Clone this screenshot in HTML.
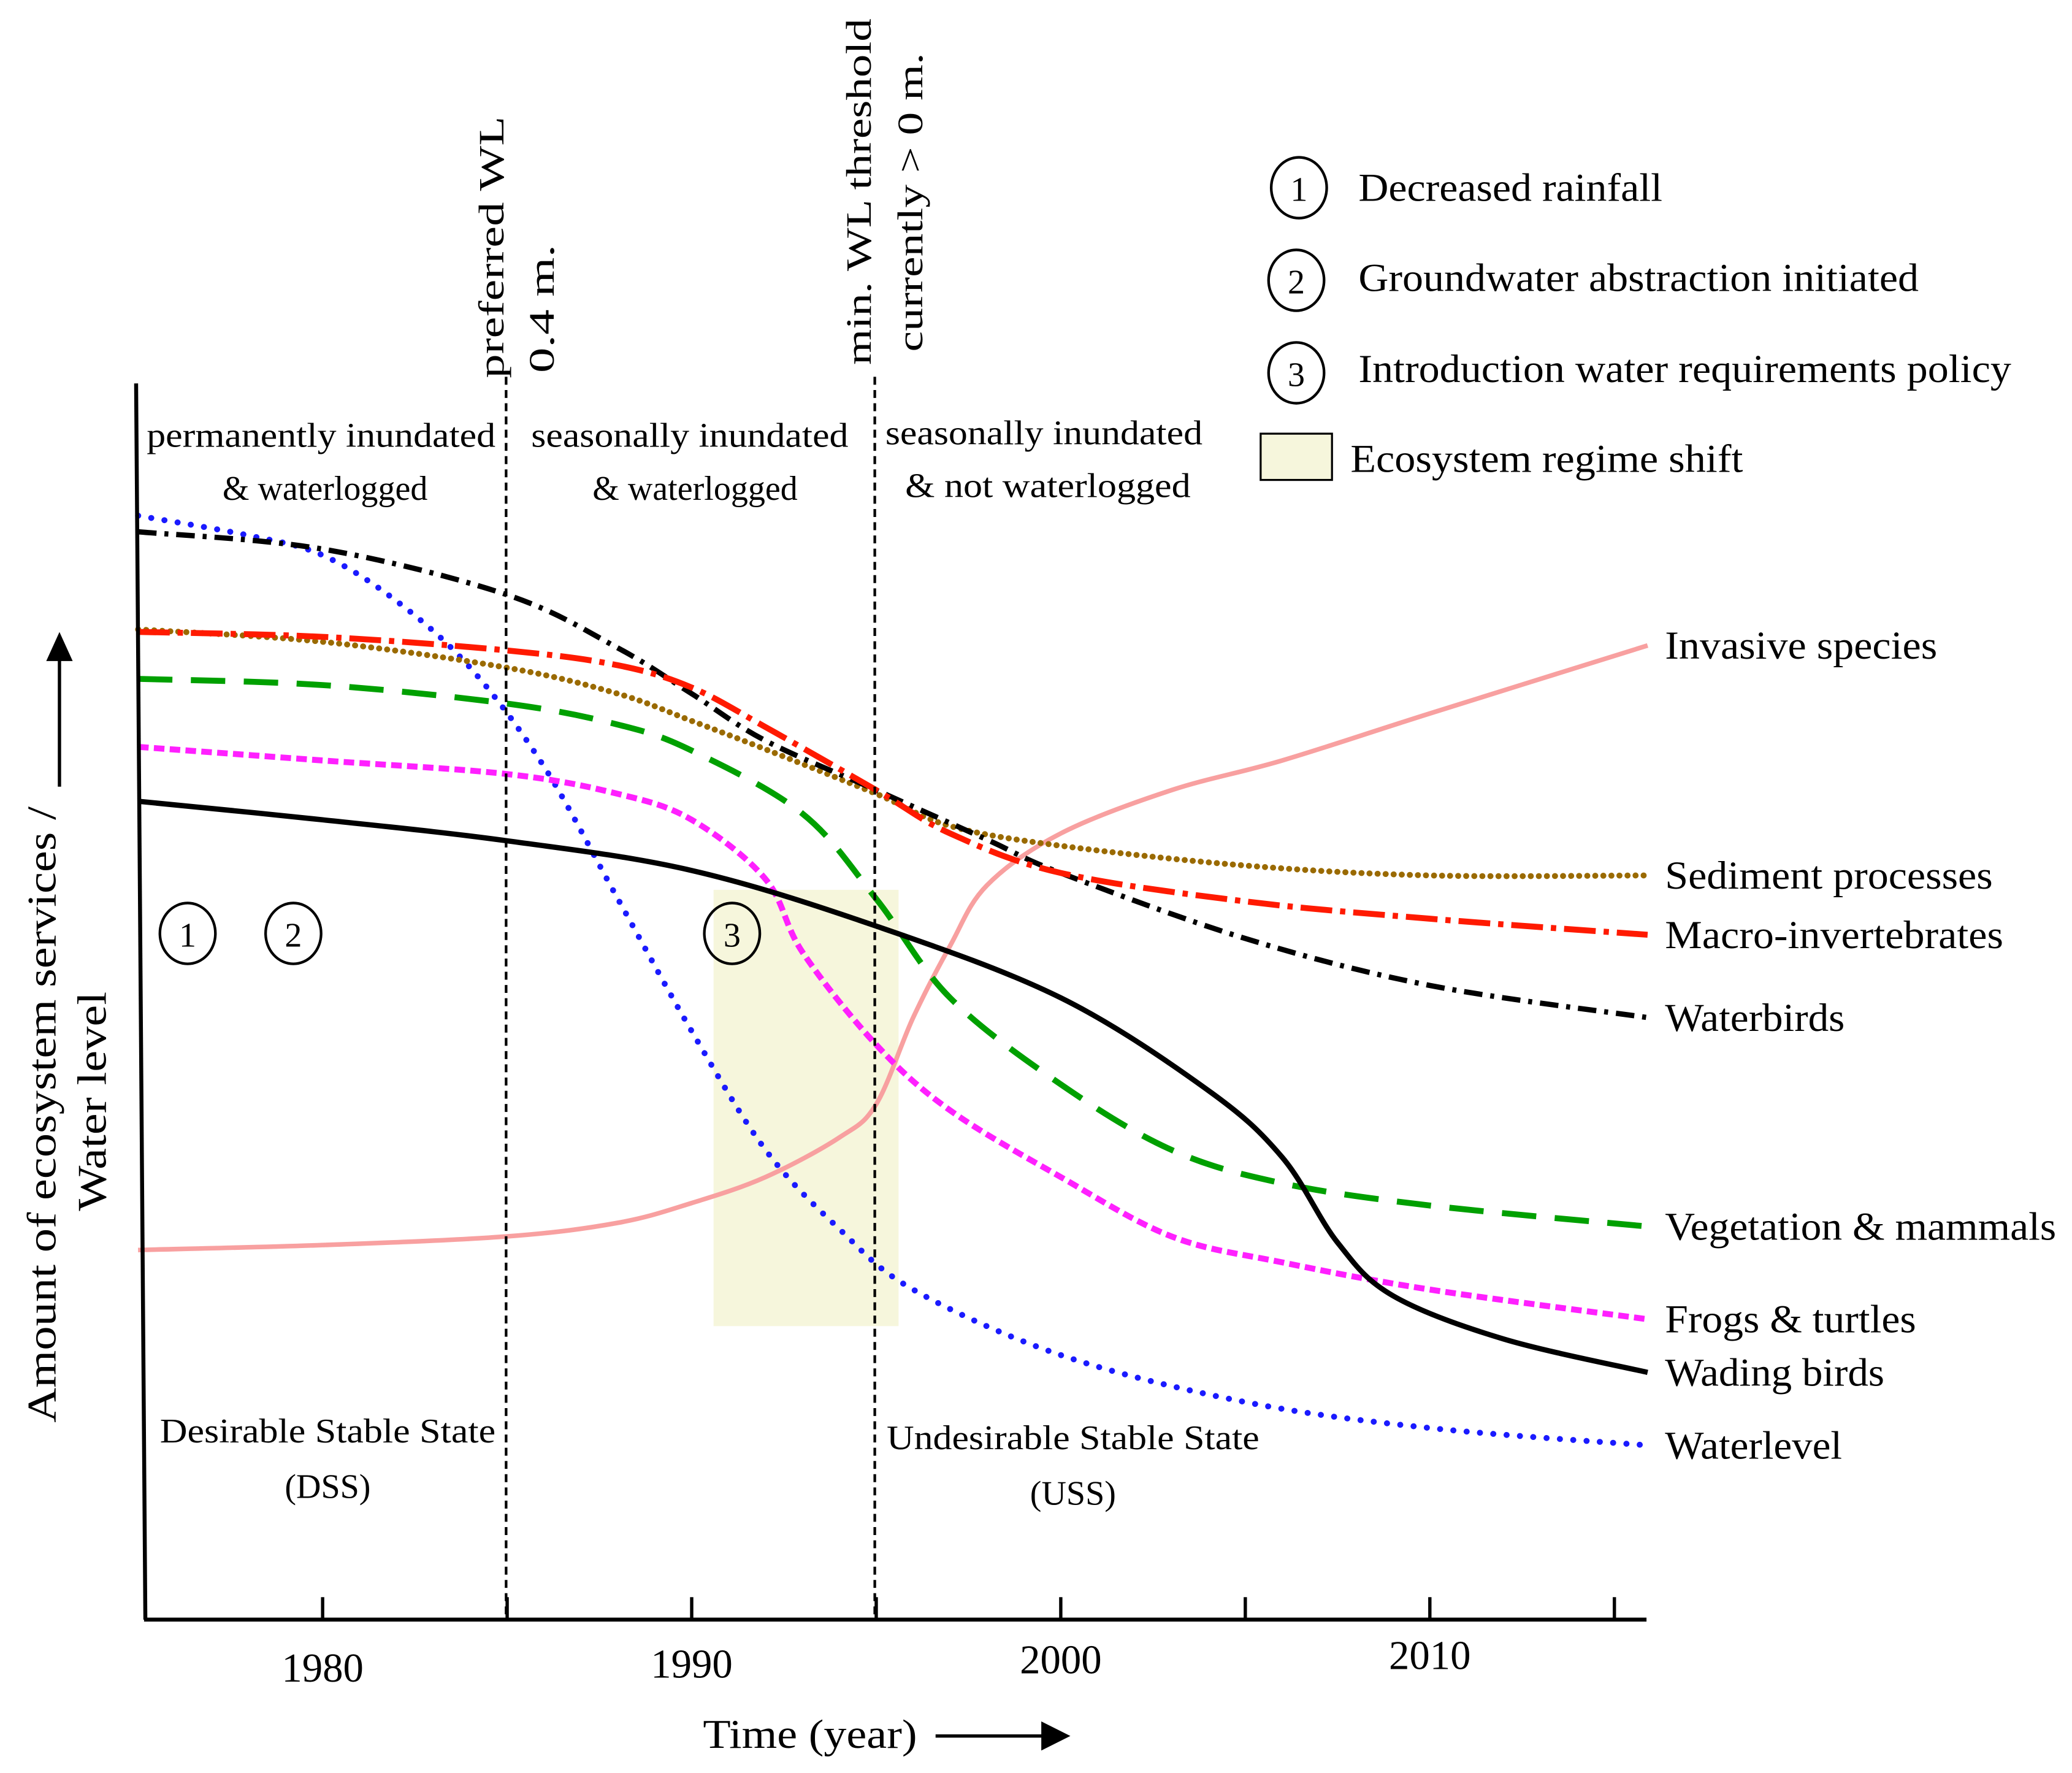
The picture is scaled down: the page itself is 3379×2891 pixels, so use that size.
<!DOCTYPE html>
<html><head><meta charset="utf-8"><style>
html,body{margin:0;padding:0;background:#fff}
svg{display:block}
text{font-family:"Liberation Serif",serif;fill:#000}
</style></head><body>
<svg id="chart" width="3379" height="2891" viewBox="0 0 1568 1341" preserveAspectRatio="none" xmlns="http://www.w3.org/2000/svg">
<rect x="540" y="673" width="140" height="330" fill="#f6f6dc"/>
<g id="curves"></g>
<line x1="103" y1="290" x2="110" y2="1225" stroke="#000" stroke-width="3"/>
<line x1="109" y1="1225" x2="1246" y2="1225" stroke="#000" stroke-width="3"/>
<g id="ticks"></g>
<line x1="383" y1="285" x2="383" y2="1225" stroke="#000" stroke-width="2" stroke-dasharray="6 4"/>
<line x1="662" y1="285" x2="662" y2="1225" stroke="#000" stroke-width="2" stroke-dasharray="6 4"/>
<g font-size="27">
<text transform="translate(381,286) rotate(-90)" textLength="198" lengthAdjust="spacingAndGlyphs">preferred WL</text>
<text transform="translate(419,282) rotate(-90)" textLength="97" lengthAdjust="spacingAndGlyphs">0.4  m.</text>
<text transform="translate(659,276) rotate(-90)" textLength="262" lengthAdjust="spacingAndGlyphs">min. WL threshold</text>
<text transform="translate(698,266) rotate(-90)" textLength="226" lengthAdjust="spacingAndGlyphs">currently &gt; 0 m.</text>
</g>
<g font-size="26" text-anchor="middle">
<text x="243" y="338" textLength="264" lengthAdjust="spacingAndGlyphs">permanently inundated</text>
<text x="246" y="378">&amp; waterlogged</text>
<text x="522" y="338" textLength="240" lengthAdjust="spacingAndGlyphs">seasonally inundated</text>
<text x="526" y="378">&amp; waterlogged</text>
<text x="790" y="336" textLength="240" lengthAdjust="spacingAndGlyphs">seasonally inundated</text>
<text x="793" y="376" textLength="216" lengthAdjust="spacingAndGlyphs">&amp; not waterlogged</text>
<text x="248" y="1091" textLength="254" lengthAdjust="spacingAndGlyphs">Desirable Stable State</text>
<text x="248" y="1133">(DSS)</text>
<text x="812" y="1096" textLength="282" lengthAdjust="spacingAndGlyphs">Undesirable Stable State</text>
<text x="812" y="1138">(USS)</text>
</g>
<g fill="none" stroke="#000" stroke-width="2">
<ellipse cx="142" cy="706" rx="21" ry="23"/>
<ellipse cx="222" cy="706" rx="21" ry="23"/>
<ellipse cx="554" cy="706" rx="21" ry="23"/>
<ellipse cx="983" cy="142" rx="21" ry="23"/>
<ellipse cx="981" cy="212" rx="21" ry="23"/>
<ellipse cx="981" cy="282" rx="21" ry="23"/>
</g>
<g font-size="26" text-anchor="middle">
<text x="142" y="716">1</text><text x="222" y="716">2</text><text x="554" y="716">3</text>
<text x="983" y="152">1</text><text x="981" y="222">2</text><text x="981" y="292">3</text>
</g>
<rect x="954" y="328" width="54" height="35" fill="#f6f6dc" stroke="#000" stroke-width="1.5"/>
<g font-size="30">
<text x="1028" y="152" textLength="230" lengthAdjust="spacingAndGlyphs">Decreased rainfall</text>
<text x="1028" y="220" textLength="424" lengthAdjust="spacingAndGlyphs">Groundwater abstraction initiated</text>
<text x="1028" y="289" textLength="494" lengthAdjust="spacingAndGlyphs">Introduction water requirements policy</text>
<text x="1022" y="357" textLength="297" lengthAdjust="spacingAndGlyphs">Ecosystem regime shift</text>
</g>
<g id="labels" font-size="30"></g>
<g font-size="31">
<text transform="translate(42,1076) rotate(-90)" textLength="466" lengthAdjust="spacingAndGlyphs">Amount of ecosystem services /</text>
<text transform="translate(80,916) rotate(-90)" textLength="166" lengthAdjust="spacingAndGlyphs">Water level</text>
<text x="532" y="1322" textLength="162" lengthAdjust="spacingAndGlyphs">Time (year)</text>
</g>
<line x1="45" y1="595" x2="45" y2="495" stroke="#000" stroke-width="2.5"/>
<polygon points="35,500 55,500 45,478" fill="#000"/>
<line x1="708" y1="1313" x2="792" y2="1313" stroke="#000" stroke-width="2.5"/>
<polygon points="788,1302 788,1324 810,1313" fill="#000"/>
</svg>
<script>
const tickYears=[1980,1985,1990,1995,2000,2005,2010,2015];
const tickLabels=["1980","","1990","","2000","","2010",""];
const wlYears=[1975,1978,1980,1982,1984,1986,1988,1990,1992,1994,1996,2000,2005,2010,2015.9];
const wlVals=[89.3,87.7,86.1,82.4,77.0,69.0,58.3,47.6,38.0,31.6,26.7,21.4,17.6,15.5,14.1];
const wbYears=[1975,1980,1985,1988,1990,1992,1995,1998,2000,2005,2010,2015.9];
const wbVals=[88.0,86.6,82.9,78.6,74.9,71.1,67.1,63.1,60.4,55.1,51.3,48.7];
const miYears=[1975,1980,1985,1988,1990,1992,1995,1997,2000,2005,2010,2015.9];
const miVals=[79.9,79.5,78.4,77.2,75.4,72.2,67.1,63.6,60.4,58.1,56.7,55.4];
const spYears=[1975,1980,1985,1988,1990,1992,1995,1997,2000,2005,2010,2015.9];
const spVals=[80.1,79.1,77.0,74.9,72.7,70.4,66.8,64.2,62.6,61.0,60.2,60.2];
const vmYears=[1975,1980,1985,1988,1990,1993,1995,1997,2000,2003,2006,2010,2015.9];
const vmVals=[76.1,75.6,74.1,72.4,70.3,65.2,58.3,50.3,43.3,38.0,35.3,33.5,31.8];
const ftYears=[1975,1980,1985,1988,1990,1992,1993,1995,1997,2000,2003,2006,2010,2015.9];
const ftVals=[70.6,69.5,68.4,66.8,64.7,59.9,54.0,46.5,41.2,35.8,31.0,28.9,26.7,24.3];
const wdYears=[1975,1980,1985,1990,1995,2000,2004,2006,2007.5,2009,2012,2015.9];
const wdVals=[66.2,64.7,63.0,60.6,56.1,50.3,42.8,37.4,30.5,26.2,22.7,20.0];
const isYears=[1975,1980,1985,1988,1990,1992,1994,1995,1996,1997,1998,2000,2003,2006,2010,2015.9];
const isVals=[29.9,30.3,31.0,32.1,33.7,35.8,39.0,41.7,48.7,54.5,59.4,63.6,67.1,69.5,73.3,78.8];
const seriesNames=["Invasive species","Sediment processes","Macro-invertebrates","Waterbirds","Vegetation & mammals","Frogs & turtles","Wading birds","Waterlevel"];

const xS=y=>104.5+(y-1975)*27.93;
const yS=v=>1225-v*9.35;
const NS="http://www.w3.org/2000/svg";
function smooth(xs,vs){
  const p=xs.map((x,i)=>[xS(x),yS(vs[i])]);
  let d="M"+p[0][0]+","+p[0][1];
  for(let i=0;i<p.length-1;i++){
    const p0=p[Math.max(0,i-1)],p1=p[i],p2=p[i+1],p3=p[Math.min(p.length-1,i+2)];
    const c1=[p1[0]+(p2[0]-p0[0])/6,p1[1]+(p2[1]-p0[1])/6];
    const c2=[p2[0]-(p3[0]-p1[0])/6,p2[1]-(p3[1]-p1[1])/6];
    d+=` C${c1[0]},${c1[1]} ${c2[0]},${c2[1]} ${p2[0]},${p2[1]}`;
  }
  return d;
}
const g=document.getElementById('curves');
function addCurve(name,xs,vs,color,w,dash,cap){
  const el=document.createElementNS(NS,'path');
  el.setAttribute('d',smooth(xs,vs));
  el.setAttribute('fill','none');
  el.setAttribute('stroke',color);
  el.setAttribute('stroke-width',w);
  if(dash)el.setAttribute('stroke-dasharray',dash);
  if(cap)el.setAttribute('stroke-linecap',cap);
  
  
  g.appendChild(el);
}
addCurve('invasive-species-line',isYears,isVals,'#f8a0a0',3.5,null);
addCurve('waterlevel-line',wlYears,wlVals,'#1a1aff',4.5,'0.1 10','round');
addCurve('sediment-line',spYears,spVals,'#9a6a00',4.5,'0.1 6','round');
addCurve('vegetation-line',vmYears,vmVals,'#00a000',4.5,'26 14');
addCurve('frogs-line',ftYears,ftVals,'#ff20ff',4.5,'8 4');
addCurve('wading-birds-line',wdYears,wdVals,'#000',4,null);
addCurve('waterbirds-line',wbYears,wbVals,'#000',4,'14 6 3 6');
addCurve('macroinvertebrates-line',miYears,miVals,'#ff1a00',4.5,'24 6 4 6');

const tg=document.getElementById('ticks');
tickYears.forEach((yr,i)=>{
  const x=xS(yr);
  const l=document.createElementNS(NS,'line');
  l.setAttribute('x1',x);l.setAttribute('x2',x);
  l.setAttribute('y1',1225);l.setAttribute('y2',1208);
  l.setAttribute('stroke','#000');l.setAttribute('stroke-width',2.5);
  
  
  tg.appendChild(l);
  if(tickLabels[i]){
    const t=document.createElementNS(NS,'text');
    t.setAttribute('x',x);t.setAttribute('y',1272-i*1.6);
    t.setAttribute('text-anchor','middle');t.setAttribute('font-size','31');
    t.textContent=tickLabels[i];
    
    
    tg.appendChild(t);
  }
});
const endVals=[isVals[isVals.length-1],spVals[spVals.length-1],miVals[miVals.length-1],wbVals[wbVals.length-1],vmVals[vmVals.length-1],ftVals[ftVals.length-1],wdVals[wdVals.length-1],wlVals[wlVals.length-1]];
const lens=[206,248,256,136,296,190,166,134];
const lg=document.getElementById('labels');
seriesNames.forEach((n,i)=>{
  const t=document.createElementNS(NS,'text');
  t.setAttribute('x',1260);t.setAttribute('y',yS(endVals[i])+10);
  t.setAttribute('textLength',lens[i]);t.setAttribute('lengthAdjust','spacingAndGlyphs');
  t.textContent=n;
  
  
  lg.appendChild(t);
});
</script>
</body></html>
